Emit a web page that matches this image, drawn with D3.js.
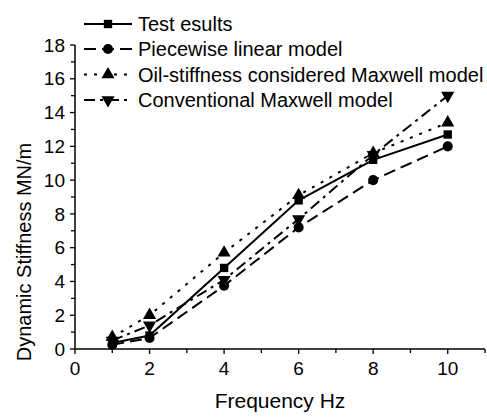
<!DOCTYPE html>
<html>
<head>
<meta charset="utf-8">
<script src="https://cdn.jsdelivr.net/npm/d3@7"></script>
<style>
  body { margin: 0; background: #fff; }
  text { font-family: "Liberation Sans", Arial, sans-serif; fill: #000; }
</style>
</head>
<body>
<script>
// data
var freq = [1, 2, 4, 6, 8, 10];
var testResults = [0.35, 0.8, 4.8, 8.8, 11.2, 12.7];
var piecewise = [0.25, 0.65, 3.75, 7.2, 10.0, 12.0];
var oilMaxwell = [0.7, 2.0, 5.7, 9.1, 11.6, 13.4];
var convMaxwell = [0.5, 1.4, 4.1, 7.7, 11.5, 15.0];
var xTicks = [0, 2, 4, 6, 8, 10];
var yTicks = [0, 2, 4, 6, 8, 10, 12, 14, 16, 18];
var seriesNames = ["Test esults", "Piecewise linear model",
  "Oil-stiffness considered Maxwell model", "Conventional Maxwell model"];

var W = 487, H = 417;
var margin = {top: 45, right: 2, bottom: 68, left: 75};
var width = W - margin.left - margin.right;
var height = H - margin.top - margin.bottom;

var svg = d3.select("body").append("svg")
    .attr("width", W)
    .attr("height", H);

var g = svg.append("g")
    .attr("transform", "translate(" + margin.left + "," + margin.top + ")");

var x = d3.scaleLinear().domain([0, 11]).range([0, width]);
var y = d3.scaleLinear().domain([0, 18]).range([height, 0]);

// styles for each series
var styles = [
  {vals: testResults, dash: null, sym: d3.symbolSquare, size: 70, rot: 0},
  {vals: piecewise, dash: "12,6", sym: d3.symbolCircle, size: 80, rot: 0},
  {vals: oilMaxwell, dash: "3,7", sym: d3.symbolTriangle, size: 75, rot: 0},
  {vals: convMaxwell, dash: "11,5,3,5", sym: d3.symbolTriangle, size: 75, rot: 180}
];

// axes
var xAxis = g.append("g").attr("transform", "translate(0," + height + ")");
xAxis.append("line").attr("x1", 0).attr("x2", width)
    .attr("stroke", "#000").attr("stroke-width", 1.5);
xAxis.selectAll(".tk").data(d3.range(0, 12)).enter().append("line")
    .attr("x1", function(d) { return x(d); })
    .attr("x2", function(d) { return x(d); })
    .attr("y1", 0).attr("y2", function(d) { return d % 2 ? 4 : 5; })
    .attr("stroke", "#000").attr("stroke-width", 1.3);
xAxis.selectAll(".lb").data(xTicks).enter().append("text")
    .attr("x", function(d) { return x(d); })
    .attr("y", 26)
    .attr("text-anchor", "middle")
    .style("font-size", "19px")
    .text(function(d) { return d; });

var yAxis = g.append("g");
yAxis.append("line").attr("y1", 0).attr("y2", height)
    .attr("stroke", "#000").attr("stroke-width", 1.5);
yAxis.selectAll(".tk").data(d3.range(0, 19)).enter().append("line")
    .attr("y1", function(d) { return y(d); })
    .attr("y2", function(d) { return y(d); })
    .attr("x1", 0).attr("x2", function(d) { return d % 2 ? -4 : -5; })
    .attr("stroke", "#000").attr("stroke-width", 1.3);
yAxis.selectAll(".lb").data(yTicks).enter().append("text")
    .attr("x", -10)
    .attr("y", function(d) { return y(d); })
    .attr("dy", "0.35em")
    .attr("text-anchor", "end")
    .style("font-size", "19px")
    .text(function(d) { return d; });

// axis titles
svg.append("text")
    .attr("x", margin.left + width / 2)
    .attr("y", 408)
    .attr("text-anchor", "middle")
    .style("font-size", "21px")
    .text("Frequency Hz");

svg.append("text")
    .attr("transform", "translate(31,252) rotate(-90)")
    .attr("text-anchor", "middle")
    .style("font-size", "20px")
    .text("Dynamic Stiffness MN/m");

// lines
var line = d3.line()
    .x(function(d, i) { return x(freq[i]); })
    .y(function(d) { return y(d); });

styles.slice().reverse().forEach(function(s) {
  g.append("path")
      .datum(s.vals)
      .attr("fill", "none")
      .attr("stroke", "#000")
      .attr("stroke-width", 2)
      .attr("stroke-dasharray", s.dash)
      .attr("d", line);
});

styles.slice().reverse().forEach(function(s) {
  g.selectAll(null).data(s.vals).enter().append("path")
      .attr("d", d3.symbol().type(s.sym).size(s.size))
      .attr("transform", function(d, i) {
        return "translate(" + x(freq[i]) + "," + y(d) + ") rotate(" + s.rot + ")";
      })
      .attr("fill", "#000");
});

// legend
var legend = svg.append("g").attr("transform", "translate(84,0)");
var rowY = [24, 49, 74.5, 100];
styles.forEach(function(s, i) {
  var row = legend.append("g").attr("transform", "translate(0," + rowY[i] + ")");
  row.append("line")
      .attr("x1", 0).attr("x2", 48)
      .attr("stroke", "#000").attr("stroke-width", 2)
      .attr("stroke-dasharray", s.dash);
  row.append("path")
      .attr("d", d3.symbol().type(s.sym).size(s.size))
      .attr("transform", "translate(24,0) rotate(" + s.rot + ")")
      .attr("fill", "#000");
  row.append("text")
      .attr("x", 54)
      .attr("dy", "0.35em")
      .style("font-size", "20px")
      .text(seriesNames[i]);
});
</script>
</body>
</html>
